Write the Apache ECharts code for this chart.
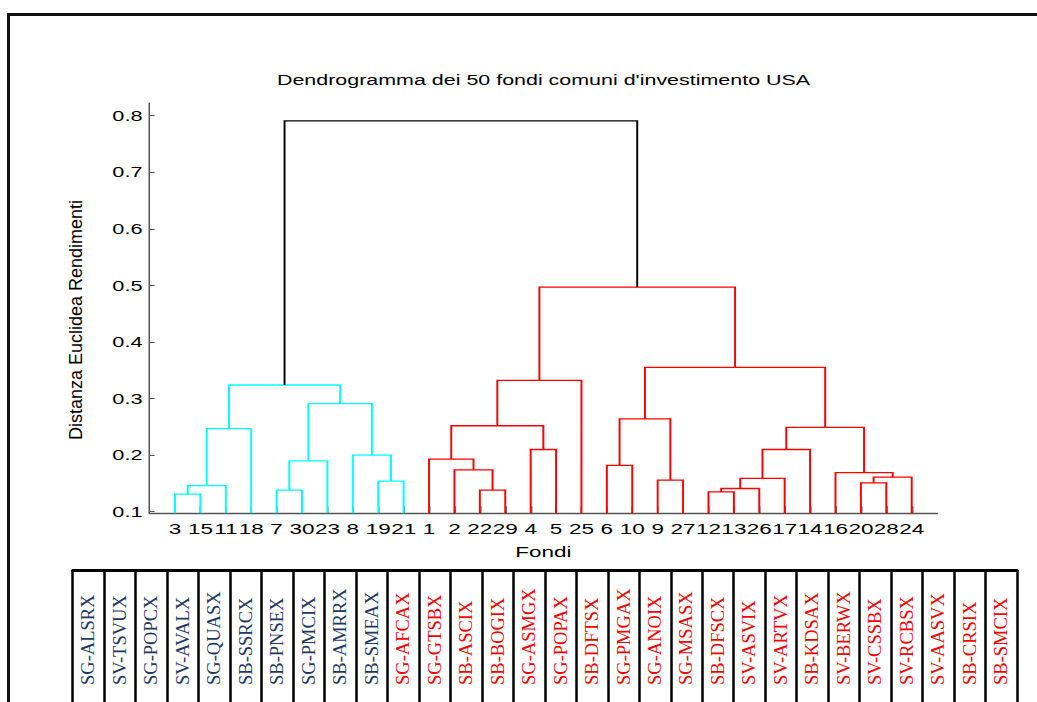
<!DOCTYPE html>
<html>
<head>
<meta charset="utf-8">
<script src="https://cdn.jsdelivr.net/npm/echarts@6/dist/echarts.min.js"></script>
<style>
  html, body { margin: 0; padding: 0; background: #ffffff; }
  #page { position: relative; width: 1037px; height: 702px; overflow: hidden; }
  #tbl { position: absolute; left: 0; top: 0; width: 1037px; height: 702px; }
  #dendro { position: absolute; left: 0; top: 0; height: 560px; transform-origin: 0 0; }
</style>
</head>
<body>
<div id="page">
  <div id="tbl"></div>
  <div id="dendro"></div>
</div>
<script>
// ---------------- data ----------------
const chartTitle = "Dendrogramma dei 50 fondi comuni d'investimento USA";
const xAxisName = 'Fondi';
const yAxisName = 'Distanza Euclidea Rendimenti';
// leaf order as shown on the x axis (observation numbers)
const leafOrder = [3, 15, 11, 18, 7, 30, 23, 8, 19, 21, 1, 2, 22, 29, 4, 5, 25, 6, 10, 9, 27, 12, 13, 26, 17, 14, 16, 20, 28, 24];
// linkage: [childA, childB, height]; ids 1..30 are leaves, merge k creates cluster 31+k
const merges = [
  [3, 15, 0.131],   // 31
  [12, 13, 0.135],  // 32
  [7, 30, 0.138],   // 33
  [22, 29, 0.138],  // 34
  [32, 26, 0.141],  // 35
  [31, 11, 0.146],  // 36
  [20, 28, 0.151],  // 37
  [19, 21, 0.154],  // 38
  [9, 27, 0.156],   // 39
  [35, 17, 0.159],  // 40
  [37, 24, 0.161],  // 41
  [16, 41, 0.169],  // 42
  [2, 34, 0.174],   // 43
  [6, 10, 0.182],   // 44
  [33, 23, 0.190],  // 45
  [1, 43, 0.193],   // 46
  [8, 38, 0.200],   // 47
  [4, 5, 0.210],    // 48
  [40, 14, 0.210],  // 49
  [36, 18, 0.247],  // 50
  [49, 42, 0.249],  // 51
  [46, 48, 0.252],  // 52
  [44, 39, 0.264],  // 53
  [45, 47, 0.291],  // 54
  [50, 54, 0.324],  // 55
  [52, 25, 0.332],  // 56
  [53, 51, 0.355],  // 57
  [56, 57, 0.497],  // 58
  [55, 58, 0.791]   // 59
];
const colorThreshold = 0.554;
const groupColors = ['#00FFFF', '#FF0000'];
const aboveColor = '#000000';
const yTicks = [0.1, 0.2, 0.3, 0.4, 0.5, 0.6, 0.7, 0.8];
// table of fund codes (in leaf order)
const fundNames = ['SG-ALSRX', 'SV-TSVUX', 'SG-POPCX', 'SV-AVALX', 'SG-QUASX', 'SB-SSRCX', 'SB-PNSEX', 'SG-PMCIX', 'SB-AMRRX', 'SB-SMEAX',
  'SG-AFCAX', 'SG-GTSBX', 'SB-ASCIX', 'SB-BOGIX', 'SG-ASMGX', 'SG-POPAX', 'SB-DFTSX', 'SG-PMGAX', 'SG-ANOIX', 'SG-MSASX',
  'SB-DFSCX', 'SV-ASVIX', 'SV-ARTVX', 'SB-KDSAX', 'SV-BERWX', 'SV-CSSBX', 'SV-RCBSX', 'SV-AASVX', 'SB-CRSIX', 'SB-SMCIX'];
const fundGroup = [0, 0, 0, 0, 0, 0, 0, 0, 0, 0, 1, 1, 1, 1, 1, 1, 1, 1, 1, 1, 1, 1, 1, 1, 1, 1, 1, 1, 1, 1];
const tableColors = ['#1f3864', '#ff0000'];

// ---------------- build links ----------------
const nLeaf = leafOrder.length;
const yMin = 0.0972, yMax = 0.8225;
const posX = {}, posH = {};
leafOrder.forEach((id, i) => { posX[id] = i + 1; posH[id] = yMin; });
merges.forEach((m, k) => {
  const id = nLeaf + 1 + k;
  posX[id] = (posX[m[0]] + posX[m[1]]) / 2;
  posH[id] = m[2];
});
const nodeColor = {};
const rootId = nLeaf + merges.length;
function childrenOf(id) { return id > nLeaf ? merges[id - nLeaf - 1].slice(0, 2) : []; }
let groupCounter = 0;
function paint(id, col) {
  if (id <= nLeaf) return;
  let c = col;
  if (c === null && posH[id] < colorThreshold) { c = groupColors[groupCounter++ % groupColors.length]; }
  nodeColor[id] = c === null ? aboveColor : c;
  const ch = childrenOf(id).slice().sort((a, b) => posX[a] - posX[b]);
  ch.forEach(cid => paint(cid, c));
}
paint(rootId, null);
const linkData = merges.map((m, k) => {
  const id = nLeaf + 1 + k;
  return { value: [posX[m[0]], posH[m[0]], posX[m[1]], posH[m[1]], m[2]], color: nodeColor[id] };
});

// ---------------- dendrogram chart (horizontally stretched like the original figure) ----------------
const S = 1.5;
const W1 = 1037 / S;
const dEl = document.getElementById('dendro');
dEl.style.width = W1 + 'px';
dEl.style.transform = 'scaleX(' + S + ')';
const dendro = echarts.init(dEl, null, { renderer: 'svg', width: W1, height: 560 });
const font = 'Liberation Sans';
dendro.setOption({
  animation: false,
  title: {
    text: chartTitle, left: 543.5 / S, top: 73, padding: 0, textAlign: 'center',
    textStyle: { fontFamily: font, fontSize: 14.3, fontWeight: 'normal', color: '#000' }
  },
  grid: { left: 149.6 / S, right: 99.9 / S, top: 103, bottom: 46.7, containLabel: false, outerBoundsMode: 'none' },
  xAxis: {
    type: 'value', min: 0, max: nLeaf + 1,
    name: xAxisName, nameLocation: 'middle', nameGap: 31,
    nameTextStyle: { fontFamily: font, fontSize: 15, color: '#000' },
    axisLine: { show: true, lineStyle: { color: '#555', width: 1.3 } },
    axisTick: { show: true, inside: true, length: 7, customValues: leafOrder.map((d, i) => i + 1), lineStyle: { color: 'rgba(0,0,0,0.55)', width: 1 } },
    axisLabel: {
      show: true, margin: 8, customValues: leafOrder.map((d, i) => i + 1),
      formatter: v => String(leafOrder[Math.round(v) - 1]),
      fontFamily: font, fontSize: 15, color: '#000'
    },
    splitLine: { show: false }
  },
  yAxis: {
    type: 'value', min: yMin, max: yMax,
    axisLine: { show: true, lineStyle: { color: '#555', width: 1 } },
    axisTick: { show: true, inside: true, length: 5 / S, customValues: yTicks, lineStyle: { color: '#555', width: 1 } },
    axisLabel: { show: true, margin: 7 / S, customValues: yTicks, formatter: v => v.toFixed(1), fontFamily: font, fontSize: 14.5, color: '#000' },
    splitLine: { show: false }
  },
  series: [{
    type: 'custom',
    coordinateSystem: 'cartesian2d',
    encode: { x: [0, 2], y: [1, 3, 4] },
    data: linkData,
    z: 1,
    renderItem: function (params, api) {
      const xa = api.value(0), ya = api.value(1), xb = api.value(2), yb = api.value(3), h = api.value(4);
      const p1 = api.coord([xa, ya]), p2 = api.coord([xa, h]), p3 = api.coord([xb, h]), p4 = api.coord([xb, yb]);
      return {
        type: 'polyline',
        shape: { points: [p1, p2, p3, p4] },
        style: { stroke: linkData[params.dataIndex].color, fill: 'none', lineWidth: 1.3 }
      };
    }
  }]
});

// ---------------- table of fund codes ----------------
const tbl = echarts.init(document.getElementById('tbl'), null, { renderer: 'svg', width: 1037, height: 702 });
tbl.setOption({
  animation: false,
  grid: { left: 72.7, right: 20, top: 570, bottom: 0, outerBoundsMode: 'none' },
  xAxis: [{
    type: 'category', data: fundNames, position: 'bottom', boundaryGap: true,
    axisLine: { show: false }, axisTick: { show: false },
    axisLabel: {
      show: true, inside: true, rotate: 90, margin: 17, interval: 0, hideOverlap: false,
      fontFamily: 'Liberation Serif', fontSize: 18.5,
      color: function (val) { const i = fundNames.indexOf(val); return tableColors[fundGroup[i]]; }
    },
    splitLine: { show: false }
  }, {
    type: 'category', data: fundNames, position: 'top', boundaryGap: true,
    axisLine: { show: true, lineStyle: { color: '#000', width: 3 } },
    axisTick: { show: false, interval: 0 }, axisLabel: { show: false },
    splitLine: { show: true, interval: 0, lineStyle: { color: '#000', width: 2.5 } }
  }],
  yAxis: { type: 'value', show: false, min: 0, max: 1 },
  series: [{ type: 'line', data: [], xAxisIndex: 0 }],
  graphic: [
    {
      type: 'polyline', silent: true,
      shape: { points: [[8.5, 702], [8.5, 14.5], [1037, 14.5]] },
      style: { stroke: '#111', lineWidth: 3, fill: 'none' }
    },
    {
      type: 'text', x: 76, y: 320, rotation: Math.PI / 2, silent: true,
      style: { text: yAxisName, font: '18px "Liberation Sans"', align: 'center', verticalAlign: 'middle', fill: '#000' }
    }
  ]
});
</script>
</body>
</html>
